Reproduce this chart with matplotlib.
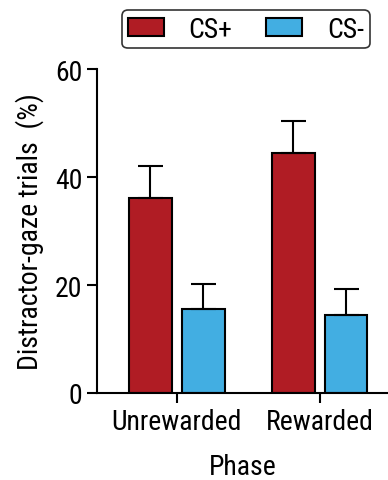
import matplotlib.pyplot as plt
import numpy as np

phases = ["Unrewarded", "Rewarded"]
cs_plus = [36.1, 44.4]
cs_plus_err = [5.9, 6.0]
cs_minus = [15.6, 14.4]
cs_minus_err = [4.6, 4.9]

plt.rcParams['font.family'] = ['Roboto Condensed', 'DejaVu Sans']

fig = plt.figure(figsize=(3.88, 4.81), dpi=100)
ax = fig.add_axes([0.25, 0.181, 0.75, 0.673])

x = np.arange(len(phases))
w = 0.30
off = 0.185
red = "#B01C24"
blue = "#42AEE2"
ax.bar(x - off, cs_plus, w, color=red, edgecolor="black", linewidth=1.5, label="CS+")
ax.bar(x + off, cs_minus, w, color=blue, edgecolor="black", linewidth=1.5, label="CS-")
ax.errorbar(x - off, cs_plus, yerr=[np.zeros(2), cs_plus_err], fmt="none",
            ecolor="black", elinewidth=1.5, capsize=9, capthick=1.5)
ax.errorbar(x + off, cs_minus, yerr=[np.zeros(2), cs_minus_err], fmt="none",
            ecolor="black", elinewidth=1.5, capsize=9, capthick=1.5)

ax.set_xlim(-0.56, 1.48)
ax.set_ylim(0, 60)
ax.set_yticks([0, 20, 40, 60])
ax.set_xticks(x)
ax.set_xticklabels(phases)
ax.spines['top'].set_visible(False)
ax.spines['right'].set_visible(False)
ax.spines['left'].set_linewidth(1.5)
ax.spines['bottom'].set_linewidth(1.5)
ax.tick_params(axis='both', labelsize=20, width=1.5, length=7)
ax.set_ylabel("Distractor-gaze trials  (%)", fontsize=20, labelpad=8)
ax.set_xlabel("Phase", fontsize=20, labelpad=13)

leg = ax.legend(loc="upper left", bbox_to_anchor=(122 / 388, 1 - 11 / 481),
                bbox_transform=fig.transFigure, borderaxespad=0, ncol=2, fontsize=20,
                frameon=True, fancybox=True, edgecolor="black", handlelength=1.3,
                handleheight=0.65, columnspacing=1.2, handletextpad=0.9, borderpad=0.2)
leg.get_frame().set_linewidth(1.2)

fig.savefig("out.png", dpi=100)
